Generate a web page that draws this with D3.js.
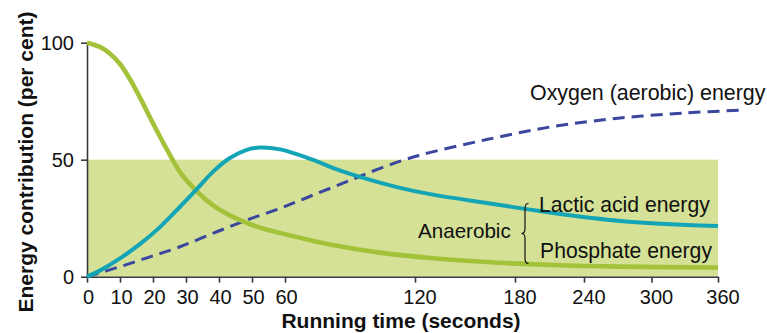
<!DOCTYPE html>
<html><head><meta charset="utf-8">
<script src="https://cdn.jsdelivr.net/npm/d3@7"></script>
<style>
html,body{margin:0;padding:0;background:#fff;}
svg{display:block;font-family:"Liberation Sans",Arial,Helvetica,sans-serif;}
</style></head>
<body>
<svg id="chart" width="767" height="333"></svg>
<script>
// ---- data ----
const xTicks = [0,10,20,30,40,50,60,120,180,240,300,360];
const yTicks = [0,50,100];
const phosphateT = [0,3.9,7,10,13,16.1,20.1,24.2,28.2,33.2,38.3,43.3,48.4,53.3,58.5,73,88.5,103.9,129,163,213.3,272,360];
const phosphateV = [100,98.2,95.3,90.9,84.5,76.4,65.3,54.4,44.7,36.6,30.4,26.2,23,20.6,18.7,15.3,12.5,10.3,8,6.3,5,4.3,3.9];
const lacticT = [0,3.9,10,16.1,22.1,28.2,33.2,38.3,43.3,48.4,52.4,58.5,73,82.3,96.1,111.6,129,163,213.3,272,331.8,360];
const lacticV = [0,2.6,7.8,14,21.2,29.9,37.3,45,50.7,54.2,55.2,54.4,49.9,46.4,42.2,38.3,35.3,31.5,27.2,23.8,22.1,21.7];
const oxygenT = [0,10,19.1,28.2,38.3,48.4,58.5,73,88.5,103.9,122.3,163,213.3,272,331.8,382.6];
const oxygenV = [0,4.3,8.5,12.8,18.6,24.2,29.2,34.9,40.6,46.3,51.8,58.6,64.2,67.8,70,71.2];
const anaerobicBand = [0,50]; // shaded band (per cent)
const labels = {
  oxygen: "Oxygen (aerobic) energy",
  lactic: "Lactic acid energy",
  phosphate: "Phosphate energy",
  anaerobic: "Anaerobic",
  xTitle: "Running time (seconds)",
  yTitle: "Energy contribution (per cent)"
};

(function(){
// ---- scales ----
const svg = d3.select("#chart");
const x = d3.scaleLinear()
  .domain([0,60,120,180,240,300,360])
  .range([87,285,415,515,584,651.5,718]);
const y = d3.scaleLinear().domain([0,100]).range([276.7,42.7]);

// shaded band
svg.append("rect")
  .attr("x", x(0)).attr("width", x(360)-x(0))
  .attr("y", y(anaerobicBand[1])).attr("height", y(anaerobicBand[0])-y(anaerobicBand[1]))
  .attr("fill", "#d4e197");

// axes
const ax = svg.append("g").attr("transform", `translate(0,${y(0)})`)
  .call(d3.axisBottom(x).tickValues(xTicks).tickSize(6).tickSizeOuter(0).tickPadding(7));
const ay = svg.append("g").attr("transform", `translate(${x(0)},0)`)
  .call(d3.axisLeft(y).tickValues(yTicks).tickSize(6).tickSizeOuter(0).tickPadding(7));
[ax, ay].forEach(g => {
  g.selectAll("path.domain").attr("stroke", "#3a3a3a").attr("stroke-width", 1.6);
  g.selectAll(".tick line").attr("stroke", "#3a3a3a").attr("stroke-width", 1.6);
  g.selectAll(".tick text").attr("fill", "#111").style("font-size", "20px")
    .style("font-family", '"Liberation Sans",Arial,sans-serif');
});
ax.selectAll(".tick text").attr("dx", d => d >= 120 ? 4.5 : 1);

// lines
const line = d3.line().curve(d3.curveCatmullRom.alpha(0.5));
function series(T, V){ return T.map((t,i)=>[x(t), y(V[i])]); }
svg.append("path").attr("d", line(series(oxygenT, oxygenV)))
  .attr("fill","none").attr("stroke","#3b469d").attr("stroke-width",3)
  .attr("stroke-dasharray","12,7");
svg.append("path").attr("d", line(series(phosphateT, phosphateV)))
  .attr("fill","none").attr("stroke","#a3c23a").attr("stroke-width",4.6);
svg.append("path").attr("d", line(series(lacticT, lacticV)))
  .attr("fill","none").attr("stroke","#13a5b6").attr("stroke-width",4);

// annotations
const ann = svg.append("g").attr("fill","#111");
ann.append("text").attr("x",530).attr("y",100).style("font-size","21.4px").text(labels.oxygen);
ann.append("text").attr("x",539).attr("y",211.5).style("font-size","21.2px").text(labels.lactic);
ann.append("text").attr("x",540).attr("y",258.3).style("font-size","21.2px").text(labels.phosphate);
ann.append("text").attr("x",418).attr("y",238.3).style("font-size","20.6px").text(labels.anaerobic);

// brace
const bx = 527, bTop = 203.5, bBot = 263.5, bMid = 233.5, tip = 521.5;
const bp = d3.path();
bp.moveTo(bx+1.5, bTop);
bp.quadraticCurveTo(bx-2, bTop, bx-2, bTop+5);
bp.lineTo(bx-2, bMid-5);
bp.quadraticCurveTo(bx-2, bMid, tip, bMid);
bp.quadraticCurveTo(bx-2, bMid, bx-2, bMid+5);
bp.lineTo(bx-2, bBot-5);
bp.quadraticCurveTo(bx-2, bBot, bx+1.5, bBot);
svg.append("path").attr("d", bp.toString()).attr("fill","none")
  .attr("stroke","#111").attr("stroke-width",1.2);

// axis titles
svg.append("text").attr("x",401).attr("y",328).attr("text-anchor","middle")
  .attr("font-weight","bold").style("font-size","21px").attr("fill","#111").text(labels.xTitle);
svg.append("text").attr("transform","translate(33,162) rotate(-90)").attr("text-anchor","middle")
  .attr("font-weight","bold").style("font-size","21px").attr("fill","#111").text(labels.yTitle);
})();
</script>
</body></html>
